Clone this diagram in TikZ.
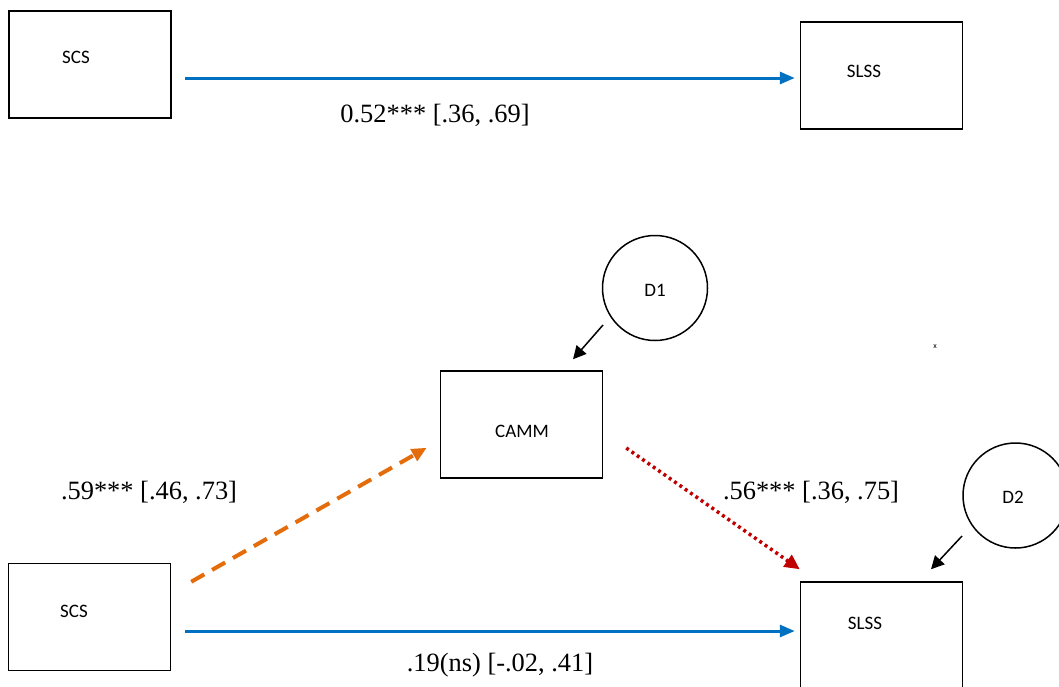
\documentclass[tikz,border=0pt]{standalone}
\usepackage{fontspec}
\setmainfont{Liberation Serif}
\newfontfamily\boxfont{Carlito}
\usetikzlibrary{arrows.meta,calc}
\definecolor{pathblue}{HTML}{0070C0}
\definecolor{pathorange}{HTML}{E46C0A}
\definecolor{pathred}{HTML}{C00000}
\tikzset{
  varbox/.style={draw=black, line width=1.5pt, minimum width=162pt, minimum height=107pt, inner sep=0pt},
  errcirc/.style={draw=black, line width=1.5pt, circle, minimum size=105pt, inner sep=0pt},
  boxtext/.style={font=\boxfont\fontsize{19}{22}\selectfont, inner sep=0pt},
  coef/.style={font=\fontsize{26.4}{29}\selectfont, inner sep=0pt},
  bluearrow/.style={draw=pathblue, line width=3pt, -{Triangle[length=15pt,width=12pt]}},
  orangearrow/.style={draw=pathorange, line width=4pt, dash pattern=on 15pt off 9pt, -{Triangle[length=15pt,width=13pt]}},
  redarrow/.style={draw=pathred, line width=3.5pt, dash pattern=on 3pt off 3.5pt, -{Triangle[length=15pt,width=14pt]}},
  errarrow/.style={draw=black, line width=1.5pt, -{Triangle[length=13pt,width=13pt]}}
}
\begin{document}
\begin{tikzpicture}[x=1pt,y=-1pt]
\useasboundingbox (0,0) rectangle (1059,686);
\fill[white] (0,0) rectangle (1059,686);
% top model
\node[varbox] (scsT) at (90,64.5) {};
\node[varbox] (slssT) at (881.5,75.5) {};
\node[boxtext] (scsTt) at (76,57) {SCS};
\node[boxtext] (slssTt) at (864,71) {SLSS};
\draw[bluearrow] ([shift={(13,13.5)}]scsT.east) -- ([shift={(-5,2.5)}]slssT.west);
\node[coef] (cT) at (435,115) {0.52*** [.36, .69]};
% bottom model
\node[varbox] (scsB) at (89.5,617) {};
\node[varbox] (camm) at (521.5,424.5) {};
\node[varbox] (slssB) at (881.5,635.5) {};
\node[boxtext] (scsBt) at (74,611) {SCS};
\node[boxtext] (cammt) at (522,431) {CAMM};
\node[boxtext] (slssBt) at (865,623) {SLSS};
\node[errcirc] (d1) at (655,288) {};
\node[errcirc] (d2) at (1015.5,495.5) {};
\node[boxtext] (d1t) at (655,290) {D1};
\node[boxtext] (d2t) at (1013,497) {D2};
\node[font=\boxfont\fontsize{8}{9}\selectfont, inner sep=0pt] (xmark) at (935,347) {x};
\draw[errarrow] ([shift={(-52,37)}]d1.center) -- ([shift={(51.5,-11)}]camm.north);
\draw[errarrow] ([shift={(-53.5,40.5)}]d2.center) -- ([shift={(49.5,-12)}]slssB.north);
\draw[orangearrow] ([shift={(20,19)}]scsB.north east) -- ([shift={(-13,-31)}]camm.south west);
\draw[redarrow] ([shift={(23,23.5)}]camm.east) -- ([shift={(0,-12)}]slssB.north west);
\draw[bluearrow] ([shift={(14,14)}]scsB.east) -- ([shift={(-5,-4.5)}]slssB.west);
\node[coef] (cA) at (149,492) {.59*** [.46, .73]};
\node[coef] (cB) at (811,492) {.56*** [.36, .75]};
\node[coef] (cC) at (500,665) {.19(ns) [-.02, .41]};
\end{tikzpicture}
\end{document}
